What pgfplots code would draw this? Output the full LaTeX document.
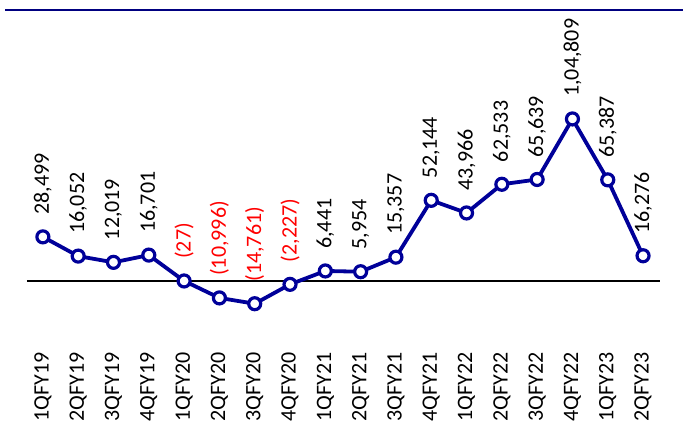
\documentclass[border=0pt]{standalone}
\usepackage{fontspec}
\setmainfont{Carlito}
\usepackage{pgfplots}
\usepackage{pgfplotstable}
\pgfplotsset{compat=1.18}
\definecolor{serblue}{RGB}{0,0,153}
\definecolor{titleblue}{RGB}{0,0,128}
\pgfplotstableread{
x y
0 28499
1 16052
2 12019
3 16701
4 -27
5 -10996
6 -14761
7 -2227
8 6441
9 5954
10 15357
11 52144
12 43966
13 62533
14 65639
15 104809
16 65387
17 16276
}\datatab
\pgfplotstableread{
x y lab
0 28499 28,499
1 16052 16,052
2 12019 12,019
3 16701 16,701
8 6441 6,441
9 5954 5,954
10 15357 15,357
11 52144 52,144
12 43966 43,966
13 62533 62,533
14 65639 65,639
15 104809 1,04,809
16 65387 65,387
17 16276 16,276
}\postab
\pgfplotstableread{
x y lab
4 -27 (27)
5 -10996 (10,996)
6 -14761 (14,761)
7 -2227 (2,227)
}\negtab
\begin{document}
\begin{tikzpicture}
\useasboundingbox (0,0) rectangle (683pt,429pt);
\draw[titleblue, line width=1.5pt] (5pt,419pt) -- (683pt,419pt);
\begin{axis}[
  at={(27pt,94pt)}, anchor=south west,
  scale only axis, width=633pt, height=325pt,
  xmin=-0.45, xmax=17.48, ymin=-35000, ymax=175300,
  axis line style={draw=none}, tick style={draw=none},
  ytick=\empty,
  xtick={0,...,17},
  xticklabels={1QFY19,2QFY19,3QFY19,4QFY19,1QFY20,2QFY20,3QFY20,4QFY20,1QFY21,2QFY21,3QFY21,4QFY21,1QFY22,2QFY22,3QFY22,4QFY22,1QFY23,2QFY23},
  xticklabel style={rotate=90, anchor=east, inner sep=0pt, font=\fontsize{22}{24}\selectfont, xshift=-17pt},
  clip=false,
]
\draw[black, line width=1.5pt] (axis cs:-0.45,0) -- (axis cs:17.48,0);
\addplot[serblue, line width=3.8pt, mark=*, mark size=6pt,
  mark options={fill=white, draw=serblue, line width=3.2pt}] table[x=x,y=y] {\datatab};
\addplot[draw=none, mark=none, point meta=explicit symbolic,
  nodes near coords={\pgfplotspointmeta},
  every node near coord/.append style={rotate=90, anchor=west, inner xsep=22pt, inner ysep=0pt, black, font=\fontsize{22}{24}\selectfont}]
  table[x=x,y=y,meta=lab] {\postab};
\addplot[draw=none, mark=none, point meta=explicit symbolic,
  nodes near coords={\pgfplotspointmeta},
  every node near coord/.append style={rotate=90, anchor=west, inner xsep=22pt, inner ysep=0pt, red, font=\fontsize{22}{24}\selectfont}]
  table[x=x,y=y,meta=lab] {\negtab};
\end{axis}
\end{tikzpicture}
\end{document}
